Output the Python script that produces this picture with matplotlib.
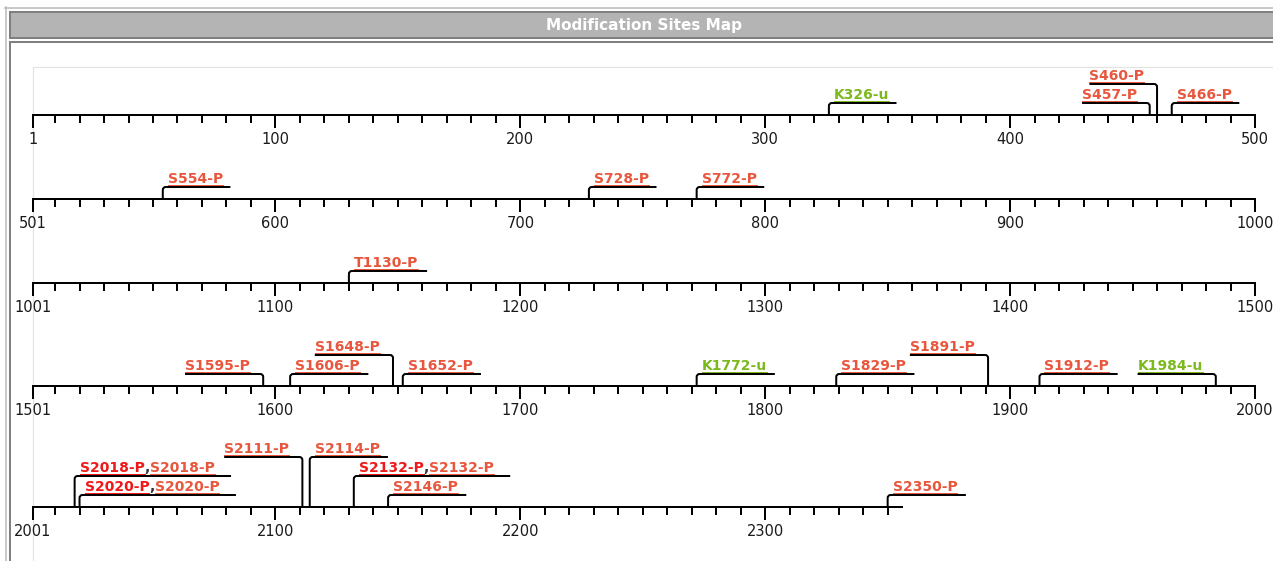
import matplotlib
matplotlib.use('Agg')
import matplotlib.pyplot as plt
from matplotlib.path import Path
from matplotlib.patches import PathPatch, Rectangle
from matplotlib.lines import Line2D

# ---- data ----
protein_length = 2356
row_size = 500
site_names = ['K326-u', 'S457-P', 'S460-P', 'S466-P',
              'S554-P', 'S728-P', 'S772-P',
              'T1130-P',
              'S1595-P', 'S1606-P', 'S1648-P', 'S1652-P', 'K1772-u',
              'S1829-P', 'S1891-P', 'S1912-P', 'K1984-u',
              'S2018-P', 'S2020-P', 'S2111-P', 'S2114-P', 'S2132-P',
              'S2146-P', 'S2350-P']
site_positions = [326, 457, 460, 466,
                  554, 728, 772,
                  1130,
                  1595, 1606, 1648, 1652, 1772,
                  1829, 1891, 1912, 1984,
                  2018, 2020, 2111, 2114, 2132,
                  2146, 2350]
# sites shown twice (two sources): red entry + orange entry
double_sites = ['S2018-P', 'S2020-P', 'S2132-P']

# ---- how the labels are stacked in the picture ----
label_levels = [1, 1, 2, 1,
                1, 1, 1,
                1,
                1, 1, 2, 1, 1,
                1, 2, 1, 1,
                2, 1, 3, 3, 2,
                1, 1]
label_sides = ['r', 'l', 'l', 'r',
               'r', 'r', 'r',
               'r',
               'l', 'r', 'l', 'r', 'r',
               'r', 'l', 'r', 'l',
               'r', 'r', 'l', 'r', 'r',
               'r', 'r']

ORANGE = '#e8573d'
RED = '#f01818'
GREEN = '#7cb91c'

FIG_W, FIG_H = 1273, 561
AX_X0, AX_X1 = 33, 1255
ROW_Y = [115, 199, 283, 386, 507]
LEVEL_H = {1: 12, 2: 31, 3: 50}
PT = 0.72  # points per pixel at dpi 100
res_per_px = (row_size - 1) / (AX_X1 - AX_X0)
LABEL_FS = 10

fig = plt.figure(figsize=(FIG_W / 100, FIG_H / 100), dpi=100)

# ---- page frame ----
bg = fig.add_axes([0, 0, 1, 1], zorder=-1)
bg.set_xlim(0, FIG_W)
bg.set_ylim(FIG_H, 0)
bg.axis('off')
bg.add_line(Line2D([5.5, 5.5], [7, FIG_H], color='#b8b8b8', lw=1.5 * PT))
bg.add_line(Line2D([5, FIG_W], [7.5, 7.5], color='#b8b8b8', lw=1.5 * PT))
bg.add_patch(Rectangle((9.5, 11.5), FIG_W, 26.5, fc='#b4b4b4', ec='#808080', lw=2 * PT))
bg.add_patch(Rectangle((9.5, 41.5), FIG_W, 600, fc='white', ec='#808080', lw=2 * PT))
bg.add_patch(Rectangle((33, 66.5), FIG_W, 600, fc='none', ec='#e2e2e2', lw=1.2 * PT))
bg.text(644, 25, 'Modification Sites Map', color='white', fontsize=11,
        fontweight='bold', ha='center', va='center')

# ---- one axes per row of 500 residues ----
BELOW, ABOVE = 32, 72
n_rows = (protein_length - 1) // row_size + 1
row_axes = []
for k in range(n_rows):
    start = k * row_size + 1
    end = min(start + row_size - 1, protein_length)
    y_px = ROW_Y[k]
    ax = fig.add_axes([AX_X0 / FIG_W, (FIG_H - y_px - BELOW) / FIG_H,
                       (AX_X1 - AX_X0) / FIG_W, (BELOW + ABOVE) / FIG_H])
    ax.set_xlim(start, start + row_size - 1)
    ax.set_ylim(-BELOW, ABOVE)
    ax.patch.set_visible(False)
    for s in ['top', 'left', 'right']:
        ax.spines[s].set_visible(False)
    sp = ax.spines['bottom']
    sp.set_position(('data', 0))
    sp.set_bounds(start, end)
    sp.set_linewidth(2 * PT)
    sp.set_color('black')
    majors = [start] + [m for m in range(start - 1 + 100, end + 1, 100)]
    minors = [m for m in range(start - 1 + 10, end + 1, 10) if m not in majors]
    ax.set_xticks(majors)
    ax.set_xticklabels([str(m) for m in majors])
    ax.set_xticks(minors, minor=True)
    ax.tick_params(axis='x', which='major', direction='out', length=13 * PT,
                   width=2 * PT, pad=4 * PT, labelsize=10.5, labelcolor='#1a1a1a')
    ax.tick_params(axis='x', which='minor', direction='out', length=8 * PT,
                   width=2 * PT)
    ax.set_yticks([])
    row_axes.append(ax)


def label_px(text):
    commas = text.count(',')
    return 10.6 * (len(text) - commas) + 4 * commas + 4


fig.canvas.draw()
renderer = fig.canvas.get_renderer()
underlines = []

for name, pos, lev, side in zip(site_names, site_positions, label_levels, label_sides):
    ax = row_axes[(pos - 1) // row_size]
    color = GREEN if name.endswith('-u') else ORANGE
    if name in double_sites:
        parts = [(name, RED), (',', '#333333'), (name, ORANGE)]
    else:
        parts = [(name, color)]
    full = ''.join(p[0] for p in parts)
    L = label_px(full) * res_per_px
    h = LEVEL_H[lev]
    kdir = 1 if side == 'r' else -1
    r = 3
    verts = [(pos, 0), (pos, h - r), (pos, h), (pos + kdir * r * res_per_px, h),
             (pos + kdir * L, h)]
    codes = [Path.MOVETO, Path.LINETO, Path.CURVE3, Path.CURVE3, Path.LINETO]
    ax.add_patch(PathPatch(Path(verts, codes), fill=False, ec='black',
                           lw=2 * PT, clip_on=False))
    x_text = pos + 5 * res_per_px if side == 'r' else pos - L
    prev = None
    for txt, col in parts:
        if prev is None:
            t = ax.text(x_text, h + 4, txt, color=col, fontsize=LABEL_FS,
                        fontweight='bold', ha='left', va='baseline', clip_on=False)
        else:
            t = ax.annotate(txt, xy=(1, 0), xycoords=prev, color=col,
                            fontsize=LABEL_FS, fontweight='bold',
                            ha='left', va='bottom', annotation_clip=False)
        prev = t
        if txt != ',':
            underlines.append((ax, t, col, h))

fig.canvas.draw()
for ax, t, col, h in underlines:
    bb = t.get_window_extent(renderer)
    inv = ax.transData.inverted()
    x0 = inv.transform((bb.x0, bb.y0))[0]
    x1 = inv.transform((bb.x1, bb.y0))[0]
    ax.add_line(Line2D([x0, x1], [h + 2.5, h + 2.5], color=col, lw=1 * PT,
                       clip_on=False))

fig.savefig('out.png', dpi=100)
